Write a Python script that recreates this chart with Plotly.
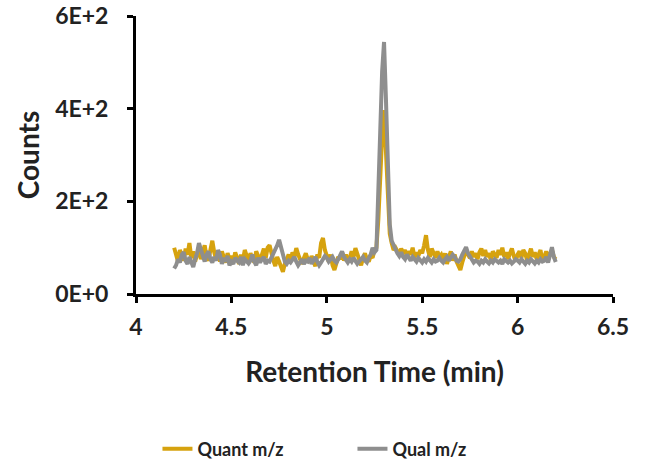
import numpy as np
import plotly.graph_objects as go

# Retention time grid (min), sampled every 0.01 min from 4.20 to 6.20
times = [round(4.20 + 0.01 * i, 2) for i in range(201)]

quant_counts = [
    100, 88, 70, 95, 82, 72, 98, 85, 110, 78,
    92, 70, 85, 100, 75, 88, 105, 80, 72, 95,
    115, 90, 75, 85, 70, 92, 80, 68, 88, 76,
    82, 70, 90, 78, 65, 85, 72, 95, 80, 70,
    88, 75, 68, 92, 80, 72, 85, 98, 78, 100,
    105, 85, 72, 60, 80, 70, 55, 48, 65, 78,
    85, 70, 90, 80, 99, 85, 72, 65, 78, 88,
    75, 68, 82, 70, 60, 85, 78, 110, 121, 95,
    78, 70, 85, 62, 52, 68, 80, 75, 90, 72,
    85, 70, 78, 92, 80, 99, 85, 70, 62, 78,
    88, 75, 70, 82, 78, 95, 100, 160, 260, 340,
    397, 300, 190, 130, 110, 95, 100, 90, 85, 98,
    88, 95, 80, 92, 85, 100, 78, 90, 82, 95,
    88, 105, 127, 95, 80, 98, 85, 78, 92, 80,
    85, 75, 88, 65, 80, 92, 72, 85, 70, 62,
    52, 68, 80, 95, 85, 78, 92, 80, 88, 75,
    90, 98, 82, 95, 80, 88, 72, 92, 85, 78,
    95, 85, 100, 80, 90, 75, 88, 98, 82, 70,
    85, 92, 78, 95, 88, 72, 85, 98, 80, 90,
    75, 88, 95, 70, 85, 92, 78, 88, 95, 80,
    75,
]

qual_counts = [
    55, 62, 75, 68, 85, 90, 72, 65, 80, 70,
    58, 75, 88, 110, 95, 80, 70, 85, 92, 75,
    68, 80, 72, 95, 85, 65, 78, 70, 82, 62,
    70, 65, 78, 72, 68, 80, 62, 75, 70, 66,
    72, 85, 70, 62, 78, 68, 75, 80, 65, 72,
    70, 78, 85, 95, 105, 117, 100, 80, 70, 65,
    72, 68, 75, 80, 70, 62, 68, 75, 65, 72,
    70, 78, 65, 72, 80, 70, 62, 68, 75, 82,
    78, 70, 75, 80, 72, 68, 75, 85, 92, 80,
    72, 68, 75, 70, 78, 72, 65, 70, 75, 80,
    72, 68, 78, 85, 100, 90, 95, 200, 350, 480,
    544, 420, 260, 150, 115, 105, 95, 88, 82, 90,
    80, 75, 85, 78, 72, 80, 75, 70, 78, 72,
    68, 75, 70, 78, 72, 68, 75, 70, 72, 78,
    72, 68, 75, 80, 72, 78, 85, 80, 72, 70,
    75, 85, 95, 101, 88, 80, 75, 68, 72, 70,
    65, 72, 68, 75, 70, 66, 72, 68, 75, 70,
    68, 72, 65, 75, 70, 68, 72, 66, 70, 75,
    72, 68, 75, 70, 65, 72, 68, 75, 70, 66,
    72, 68, 75, 70, 72, 80, 68, 85, 101, 80,
    69,
]

x_ticks = [4, 4.5, 5, 5.5, 6, 6.5]
x_tick_text = ["4", "4.5", "5", "5.5", "6", "6.5"]
y_ticks = [0, 200, 400, 600]
y_tick_text = ["0E+0", "2E+2", "4E+2", "6E+2"]

FONT = "Lato"
GOLD = "#D6A20E"
GRAY = "#8E8E8E"
TXT = "#222222"

fig = go.Figure()
fig.add_trace(go.Scatter(x=times, y=quant_counts, mode="lines", name="Quant m/z",
                         line=dict(color=GOLD, width=4)))
fig.add_trace(go.Scatter(x=times, y=qual_counts, mode="lines", name="Qual m/z",
                         line=dict(color=GRAY, width=4)))

fig.update_layout(
    width=651, height=465,
    margin=dict(l=136, r=38, t=16, b=171, autoexpand=False),
    paper_bgcolor="white", plot_bgcolor="white",
    showlegend=True,
    legend=dict(orientation="h", x=0.045, xanchor="left", y=-0.558, yanchor="middle",
                font=dict(family=FONT, size=18, color=TXT, weight=700),
                entrywidth=150, entrywidthmode="pixels", tracegroupgap=0),
)
fig.update_xaxes(
    range=[4, 6.5], tickvals=x_ticks, ticktext=x_tick_text,
    showline=True, linecolor="black", linewidth=3, mirror=False,
    ticks="outside", ticklen=6, tickwidth=2.5, tickcolor="black",
    showgrid=False, zeroline=False, automargin=False,
    ticklabelstandoff=4,
    tickfont=dict(family=FONT, size=23, color=TXT, weight=700),
    title=dict(text="Retention Time (min)", standoff=24,
               font=dict(family=FONT, size=28, color=TXT, weight=700)),
)
fig.update_yaxes(
    range=[0, 600], tickvals=y_ticks, ticktext=y_tick_text,
    showline=True, linecolor="black", linewidth=3, mirror=False,
    ticks="outside", ticklen=6, tickwidth=2.5, tickcolor="black",
    showgrid=False, zeroline=False, automargin=False,
    ticklabelstandoff=14,
    tickfont=dict(family=FONT, size=23, color=TXT, weight=700),
    title=dict(text="Counts", standoff=8,
               font=dict(family=FONT, size=28, color=TXT, weight=700)),
)

fig.write_html("out.html")
